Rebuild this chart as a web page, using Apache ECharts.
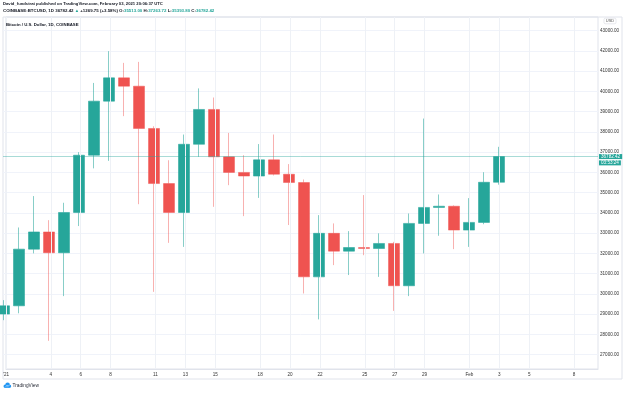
<!DOCTYPE html>
<html><head><meta charset="utf-8">
<script src="https://cdn.jsdelivr.net/npm/echarts@6/dist/echarts.min.js"></script>
<style>html,body{margin:0;padding:0;background:#fff}#c{width:624px;height:393px}</style>
</head><body><div id="c"></div>
<script>
const dates = ['2021-01-01','2021-01-02','2021-01-03','2021-01-04','2021-01-05','2021-01-06','2021-01-07','2021-01-08','2021-01-09','2021-01-10','2021-01-11','2021-01-12','2021-01-13','2021-01-14','2021-01-15','2021-01-16','2021-01-17','2021-01-18','2021-01-19','2021-01-20','2021-01-21','2021-01-22','2021-01-23','2021-01-24','2021-01-25','2021-01-26','2021-01-27','2021-01-28','2021-01-29','2021-01-30','2021-01-31','2021-02-01','2021-02-02','2021-02-03'];
const opens  = [29000,29410,32210,33060,32030,34020,36850,39520,40670,40260,38170,35450,34020,37390,39110,36770,36000,35820,36620,35910,35500,30840,32990,32110,32290,32240,32490,30400,33480,34270,34330,33150,33530,35513.00];
const highs  = [29690,33280,34830,33640,34500,37000,40420,41990,41410,41460,38280,36600,37870,40150,39700,37950,36850,37400,37870,36410,35650,33890,33480,33100,34880,32990,32570,33970,38660,34910,34370,34730,36010,37263.72];
const lows   = [28700,29040,32000,27680,29890,33350,36200,36570,38780,34430,30100,32520,32320,36770,34300,35370,33840,34740,35850,33400,30020,28740,31420,30930,31910,30840,29160,29890,32000,32870,32210,32320,33440,35393.80];
const closes = [29410,32210,33060,32030,34020,36850,39520,40670,40260,38170,35450,34020,37390,39110,36770,36000,35820,36620,35910,35500,30840,32990,32110,32290,32240,32490,30400,33480,34270,34330,33150,33530,35512.67,36782.42];

const tickDays   = [0,3,5,7,10,12,14,17,19,21,24,26,28,31,33,35,38];
const tickLabels = ["'21","4","6","8","11","13","15","18","20","22","25","27","29","Feb","3","5","8"];
const priceMin = 27000, priceMax = 43000, priceStep = 1000;
const dayMax = 39.6;
const countdown = '03:53:24';

const UP = '#26a69a', DOWN = '#ef5350';
const FONT = 'Liberation Sans';
const FS = 4.6;

const candleData = dates.map((d, i) => [i, opens[i], closes[i], lows[i], highs[i]]);
const n = closes.length;
const lastO = opens[n-1], lastH = highs[n-1], lastL = lows[n-1], lastC = closes[n-1];
const chg = lastC - closes[n-2];
const chgPct = chg / closes[n-2] * 100;

function tok(fs, extra) { return Object.assign({fontFamily: FONT, fontSize: fs, color: '#131722'}, extra || {}); }

const chart = echarts.init(document.getElementById('c'), null, {renderer: 'canvas'});
chart.setOption({
  animation: false,
  backgroundColor: '#fff',
  textStyle: {fontFamily: FONT},
  title: [
    {left: 3, top: 1.8, padding: 0,
     text: '{b|David_fundstrat} {n|published on TradingView.com, February 03, 2021 20:06:37 UTC}',
     textStyle: {fontSize: 4.2, fontFamily: FONT, rich: {b: tok(4.2, {fontWeight: 'bold'}), n: tok(4.2)}}},
    {left: 3, top: 8.3, padding: 0,
     text: '{b|COINBASE:BTCUSD, 1D} {n|' + lastC.toFixed(2) + '} {g|▲} {n|+' + chg.toFixed(2) + ' (+' + chgPct.toFixed(2) + '%) O:}{v|' + lastO.toFixed(2) + '}{n| H:}{v|' + lastH.toFixed(2) + '}{n| L:}{v|' + lastL.toFixed(2) + '}{n| C:}{v|' + lastC.toFixed(2) + '}',
     textStyle: {fontSize: 4.4, fontFamily: FONT, rich: {b: tok(4.4, {fontWeight: 'bold'}), n: tok(4.4), g: tok(4.4, {color: UP}), v: tok(4.4, {color: UP})}}},
    {left: 6, top: 22.6, padding: 0,
     text: 'Bitcoin / U.S. Dollar, 1D, COINBASE',
     textStyle: {fontSize: 4.3, fontFamily: FONT, fontWeight: 'bold', color: '#131722'}}
  ],
  grid: [
    {left: 3, right: 26, top: 30.7, bottom: 38.4},
    {left: 4, right: 26, top: 17, bottom: 24, show: true, borderColor: '#e0e3eb', borderWidth: 1, backgroundColor: 'transparent'},
    {left: 3, right: 2, top: 17, bottom: 14, show: true, borderColor: '#e0e3eb', borderWidth: 1, backgroundColor: 'transparent'}
  ],
  xAxis: [
    {type: 'value', gridIndex: 0, min: -1/15, max: dayMax, show: false},
    {type: 'value', gridIndex: 1, min: 0, max: dayMax, interval: 1, position: 'bottom',
     axisLine: {show: true, lineStyle: {color: '#e0e3eb', width: 1}},
     axisTick: {show: false}, splitLine: {show: false},
     axisLabel: {fontSize: FS, fontFamily: FONT, color: '#333', margin: 3, showMaxLabel: false,
       formatter: function (v) { const r = Math.round(v); if (Math.abs(v - r) > 1e-6) return ''; const k = tickDays.indexOf(r); return k >= 0 ? tickLabels[k] : ''; }}}
  ],
  yAxis: [
    {type: 'value', gridIndex: 0, position: 'right', min: priceMin, max: priceMax, interval: priceStep,
     axisLine: {show: false}, axisTick: {show: false},
     axisLabel: {fontSize: FS, fontFamily: FONT, color: '#333', margin: 2, formatter: v => v.toFixed(2)},
     splitLine: {lineStyle: {color: '#f0f3fa', width: 1}}},
    {type: 'value', gridIndex: 1, min: 0, max: 1, show: false}
  ],
  series: [
    {type: 'line', xAxisIndex: 1, yAxisIndex: 1, data: [], silent: true,
     markLine: {silent: true, symbol: ['none', 'none'], animation: false, label: {show: false},
       lineStyle: {color: '#eef1f6', width: 1, type: 'solid'},
       data: tickDays.map(d => ({xAxis: d}))}},
    {type: 'candlestick', xAxisIndex: 0, yAxisIndex: 0, barWidth: 11.5,
     data: candleData,
     itemStyle: {color: UP, color0: DOWN, borderColor: 'rgba(38,166,154,0.55)', borderColor0: 'rgba(239,83,80,0.45)', borderWidth: 1},
     markLine: {silent: true, symbol: ['none', 'none'], animation: false,
       lineStyle: {color: 'rgba(38,166,154,0.4)', width: 1, type: 'solid'},
       label: {show: true, position: 'end', distance: 1,
         formatter: function () { return '{s| }\n{a|' + lastC.toFixed(2) + '}\n{a|' + countdown + '}'; },
         rich: {
           s: {fontFamily: FONT, fontSize: FS, lineHeight: 6.3},
           a: {fontFamily: FONT, fontSize: FS, lineHeight: 6.3, color: '#fff', backgroundColor: UP, padding: [0, 2]}
         }},
       data: [{yAxis: lastC}]}}
  ],
  graphic: [
    {type: 'text', silent: true, style: {text: 'USD', x: 610, y: 21, align: 'center', verticalAlign: 'middle', fontSize: 4, fontFamily: FONT, fill: '#555', borderColor: '#d6d9e0', borderWidth: 0.6, borderRadius: 1.5, padding: [0.8, 1.8]}},
    {type: 'group', silent: true, children: [
      {type: 'circle', shape: {cx: 5.2, cy: 386.2, r: 1.7}, style: {fill: '#2196f3'}},
      {type: 'circle', shape: {cx: 7.6, cy: 384.9, r: 2.3}, style: {fill: '#2196f3'}},
      {type: 'circle', shape: {cx: 9.6, cy: 386.2, r: 1.6}, style: {fill: '#2196f3'}},
      {type: 'rect', shape: {x: 5.2, y: 386.2, width: 4.4, height: 1.6}, style: {fill: '#2196f3'}},
      {type: 'polyline', shape: {points: [[5.5, 386.8], [7, 385.4], [8.2, 386.3], [9.8, 384.6]]}, style: {stroke: '#fff', lineWidth: 0.6, fill: null}}
    ]},
    {type: 'text', silent: true, style: {text: 'TradingView', x: 12.5, y: 385.5, verticalAlign: 'middle', fontSize: 4.8, fontFamily: FONT, fill: '#2a2e39'}}
  ]
});
</script>
</body></html>
